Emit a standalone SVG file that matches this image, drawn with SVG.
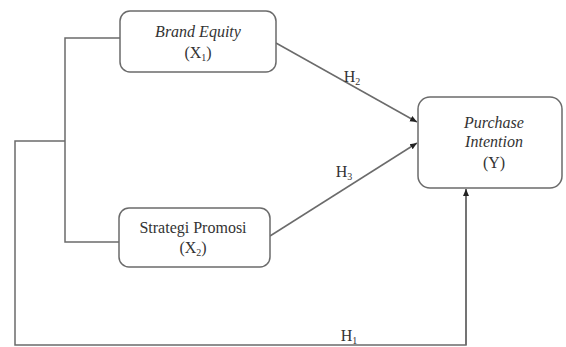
<svg xmlns="http://www.w3.org/2000/svg" width="566" height="347" viewBox="0 0 566 347">
<defs>
<style>
.box{fill:#fff;stroke:#6b6b6b;stroke-width:1.5}
.ln{fill:none;stroke:#6b6b6b;stroke-width:1.5}
.t{font-family:"Liberation Serif",serif;font-size:16px;fill:#333;text-anchor:middle}
.it{font-style:italic}
.sub{font-size:10px}
</style>
<marker id="ah" markerWidth="8" markerHeight="8" refX="7" refY="4" orient="auto" markerUnits="userSpaceOnUse">
<path d="M0,1 L7,4 L0,7 Z" fill="#222"/>
</marker>
</defs>
<rect width="566" height="347" fill="#fff"/>
<g id="connectors">
<polyline class="ln" points="120,38 65,38 65,242 119,242"/>
<polyline class="ln" points="65,141 15,141 15,345 466,345 466,189"/>
<line class="ln" x1="276" y1="43" x2="417" y2="122" marker-end="url(#ah)"/>
<line class="ln" x1="270" y1="236" x2="417" y2="143" marker-end="url(#ah)"/>
<path class="ln" d="M466,345 L466,189" marker-end="url(#ah)"/>
<text class="t" x="352" y="82">H<tspan class="sub" dy="3">2</tspan></text>
<text class="t" x="344" y="177">H<tspan class="sub" dy="3">3</tspan></text>
<text class="t" x="349" y="341">H<tspan class="sub" dy="3">1</tspan></text>
</g>
<g id="brand-equity">
<rect class="box" x="120" y="11" width="156" height="61" rx="10"/>
<text class="t it" x="198" y="37">Brand Equity</text>
<text class="t" x="198" y="58">(X<tspan class="sub" dy="3">1</tspan><tspan dy="-3">)</tspan></text>
</g>
<g id="strategi-promosi">
<rect class="box" x="119" y="208" width="151" height="59" rx="10"/>
<text class="t" x="193" y="233">Strategi Promosi</text>
<text class="t" x="193" y="253">(X<tspan class="sub" dy="3">2</tspan><tspan dy="-3">)</tspan></text>
</g>
<g id="purchase-intention">
<rect class="box" x="418" y="97" width="144" height="91" rx="12"/>
<text class="t it" x="494" y="128">Purchase</text>
<text class="t it" x="494" y="147">Intention</text>
<text class="t" x="494" y="168">(Y)</text>
</g>
</svg>
